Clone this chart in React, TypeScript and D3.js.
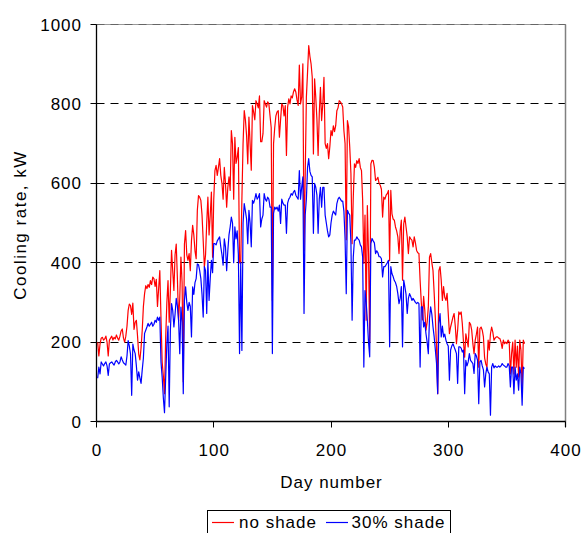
import React from "react";
import * as d3 from "d3";

// Daily cooling rate (kW), day 1..365
const noShade = [
  200, 165, 195, 210, 212, 205, 208, 215, 200, 165,
  205, 210, 215, 205, 212, 208, 218, 210, 205, 215,
  228, 233, 210, 200, 215, 240, 280, 296, 292, 270,
  298, 232, 250, 255, 215, 170, 155, 185, 230, 290,
  322, 342, 335, 345, 338, 355, 345, 364, 360, 340,
  358, 290, 335, 380, 260, 150, 115, 70, 210, 300,
  355, 250, 330, 431, 380, 330, 420, 447, 360, 254,
  310, 414, 350, 100, 447, 481, 420, 406, 423, 380,
  456, 494, 470, 430, 410, 532, 569, 565, 557, 520,
  456, 389, 420, 500, 565, 470, 520, 578, 414, 560,
  632, 645, 620, 640, 662, 620, 600, 560, 640, 600,
  540, 590, 616, 582, 733, 700, 560, 716, 650, 666,
  690, 400, 398, 560, 700, 783, 760, 720, 649, 767,
  700, 633, 796, 780, 760, 808, 800, 790, 820, 705,
  705, 725, 808, 800, 792, 805, 800, 770, 740, 305,
  700, 740, 770, 780, 783, 716, 760, 800, 795, 770,
  796, 670, 792, 813, 800, 820, 815, 830, 838, 830,
  810, 796, 898, 800, 817, 901, 430, 620, 817, 880,
  947, 920, 901, 867, 674, 863, 817, 760, 670, 775,
  842, 758, 800, 867, 700, 688, 700, 662, 692, 733,
  720, 745, 730, 745, 783, 790, 808, 805, 800, 792,
  733, 700, 458, 758, 742, 690, 624, 448, 565, 649,
  640, 657, 650, 662, 640, 632, 557, 398, 520, 255,
  544, 420, 200, 649, 658, 657, 640, 607, 610, 615,
  600, 595, 585, 515, 565, 560, 570, 574, 582, 405,
  582, 523, 510, 507, 490, 480, 465, 423, 480, 507,
  356, 498, 515, 490, 465, 423, 465, 460, 457, 440,
  465, 450, 431, 425, 423, 356, 300, 256, 315, 280,
  230, 250, 288, 414, 423, 400, 380, 323, 260, 188,
  70, 380, 390, 356, 305, 340, 313, 305, 323, 272,
  221, 238, 250, 263, 272, 240, 196, 230, 276, 270,
  276, 246, 200, 162, 221, 205, 188, 250, 245, 230,
  196, 171, 205, 220, 238, 137, 234, 238, 230, 213,
  160, 145, 137, 205, 180, 221, 238, 225, 205, 210,
  213, 213, 210, 209, 200, 184, 205, 196, 200, 196,
  205, 200, 120, 171, 200, 120, 205, 137, 190, 112,
  205, 180, 87, 205, 196,
];

const shade30 = [
  109, 137, 120, 150, 145, 140, 146, 150, 140, 116,
  145, 148, 150, 146, 142, 150, 154, 150, 145, 150,
  163, 155, 148, 145, 142, 165, 204, 190, 170, 66,
  195, 180, 171, 140, 104, 125, 110, 96, 130, 160,
  222, 230, 238, 247, 240, 245, 250, 240, 245, 255,
  250, 263, 255, 263, 150, 112, 60, 22, 110, 196,
  240, 37, 230, 297, 280, 238, 270, 310, 290, 255,
  171, 288, 250, 70, 305, 339, 300, 280, 300, 290,
  213, 339, 320, 350, 360, 397, 395, 380, 360, 320,
  263, 390, 380, 272, 406, 305, 360, 406, 375, 448,
  448, 445, 455, 460, 465, 440, 420, 394, 460, 440,
  380, 430, 470, 490, 515, 500, 400, 490, 460, 480,
  420, 171, 400, 179, 500, 549, 530, 510, 448, 532,
  500, 440, 557, 550, 560, 574, 560, 565, 574, 490,
  510, 520, 574, 560, 555, 565, 560, 540, 540, 171,
  524, 540, 535, 540, 530, 545, 499, 560, 550, 545,
  545, 474, 550, 560, 565, 574, 570, 578, 582, 570,
  565, 560, 632, 560, 590, 616, 272, 520, 560, 640,
  662, 630, 620, 616, 474, 600, 590, 570, 474, 560,
  590, 540, 590, 590, 520, 500, 480, 465, 470, 500,
  520, 530, 525, 520, 549, 560, 565, 560, 555, 555,
  530, 460, 322, 532, 525, 520, 448, 255, 414, 457,
  457, 465, 460, 457, 445, 440, 414, 137, 330, 300,
  255, 200, 163, 448, 461, 455, 450, 423, 430, 425,
  415, 415, 410, 364, 390, 390, 395, 400, 406, 188,
  390, 372, 365, 355, 350, 340, 322, 297, 310, 340,
  188, 356, 340, 320, 272, 310, 322, 315, 305, 310,
  305, 300, 297, 300, 297, 137, 289, 289, 238, 250,
  221, 200, 171, 260, 289, 270, 238, 213, 180, 146,
  70, 247, 272, 213, 240, 213, 220, 205, 196, 190,
  104, 180, 190, 196, 188, 180, 171, 96, 188, 188,
  185, 175, 180, 70, 154, 140, 150, 171, 154, 150,
  146, 121, 171, 165, 154, 45, 150, 154, 140, 130,
  87, 120, 137, 125, 120, 16, 137, 146, 135, 140,
  137, 137, 140, 137, 140, 146, 142, 140, 137, 137,
  146, 140, 87, 137, 137, 70, 137, 104, 120, 79,
  137, 120, 41, 137, 133,
];

const xTicks = [0, 100, 200, 300, 400];
const yTicks = [0, 200, 400, 600, 800, 1000];
const seriesNames = ["no shade", "30% shade"];
const seriesColors = ["#FF0000", "#0000FF"];

const FONT = "'Liberation Sans', Arial, sans-serif";

export default function App() {
  const W = 584;
  const H = 533;
  const left = 96.5;
  const right = 565.5;
  const top = 24.5;
  const bottom = 421.5;

  const x = d3.scaleLinear().domain([0, 400]).range([left, right]);
  const y = d3.scaleLinear().domain([0, 1000]).range([bottom, top]);
  const snap = (v: number) => Math.round(v - 0.5) + 0.5;

  const line = d3
    .line<number>()
    .x((_, i) => x(i + 1))
    .y((d) => y(d));

  const series = [noShade, shade30];

  const legendX = 207.5;
  const legendY = 510.5;
  const legendItems = [
    { lx1: 212, lx2: 234, tx: 239 },
    { lx1: 326, lx2: 348, tx: 351.5 },
  ];

  return (
    <svg
      width={W}
      height={H}
      style={{ position: "absolute", left: 0, top: 0, background: "#fff" }}
      fontFamily={FONT}
    >
      {/* grid */}
      {yTicks
        .filter((t) => t > 0)
        .map((t) => (
          <line
            key={"g" + t}
            x1={left}
            x2={right}
            y1={snap(y(t))}
            y2={snap(y(t))}
            stroke="#000"
            strokeWidth={1}
            strokeDasharray="8,6"
          />
        ))}

      {/* plot frame top/right */}
      <line x1={left} x2={right} y1={top} y2={top} stroke="#808080" strokeWidth={1} opacity={0.8} />
      <line x1={right} x2={right} y1={top} y2={bottom + 5.5} stroke="#808080" strokeWidth={1.5} />

      {/* series */}
      {series.map((s, k) => (
        <path
          key={seriesNames[k]}
          d={line(s) || ""}
          fill="none"
          stroke={seriesColors[k]}
          strokeWidth={1.2}
          strokeLinejoin="round"
        />
      ))}

      {/* axes */}
      <line x1={left} x2={left} y1={top} y2={bottom} stroke="#000" strokeWidth={1.3} />
      <line x1={left} x2={right} y1={bottom} y2={bottom} stroke="#000" strokeWidth={1.3} />
      {yTicks.map((t) => (
        <g key={"yt" + t}>
          <line x1={left - 6} x2={left} y1={snap(y(t))} y2={snap(y(t))} stroke="#000" strokeWidth={1} />
          <text
            x={82}
            y={y(t)}
            dy="0.36em"
            textAnchor="end"
            fontSize={17}
            letterSpacing={1}
            fill="#000"
          >
            {t}
          </text>
        </g>
      ))}
      {xTicks.map((t) => (
        <g key={"xt" + t}>
          <line x1={snap(x(t))} x2={snap(x(t))} y1={bottom} y2={bottom + 6} stroke="#000" strokeWidth={1} />
          <text x={x(t) + 0.5} y={456} textAnchor="middle" fontSize={17} letterSpacing={1} fill="#000">
            {t}
          </text>
        </g>
      ))}

      {/* axis titles */}
      <text x={331.5} y={488} textAnchor="middle" fontSize={17} letterSpacing={1} fill="#000">
        Day number
      </text>
      <text
        transform="translate(26,225) rotate(-90)"
        textAnchor="middle"
        fontSize={17}
        letterSpacing={1.5}
        fill="#000"
      >
        Cooling rate, kW
      </text>

      {/* legend */}
      <rect x={legendX} y={legendY} width={243} height={40} fill="#fff" stroke="#000" strokeWidth={1} />
      {legendItems.map((it, k) => (
        <g key={"lg" + k}>
          <line x1={it.lx1} x2={it.lx2} y1={522.5} y2={522.5} stroke={seriesColors[k]} strokeWidth={1.2} />
          <text x={it.tx} y={527.5} fontSize={17} letterSpacing={1} fill="#000">
            {seriesNames[k]}
          </text>
        </g>
      ))}
    </svg>
  );
}
